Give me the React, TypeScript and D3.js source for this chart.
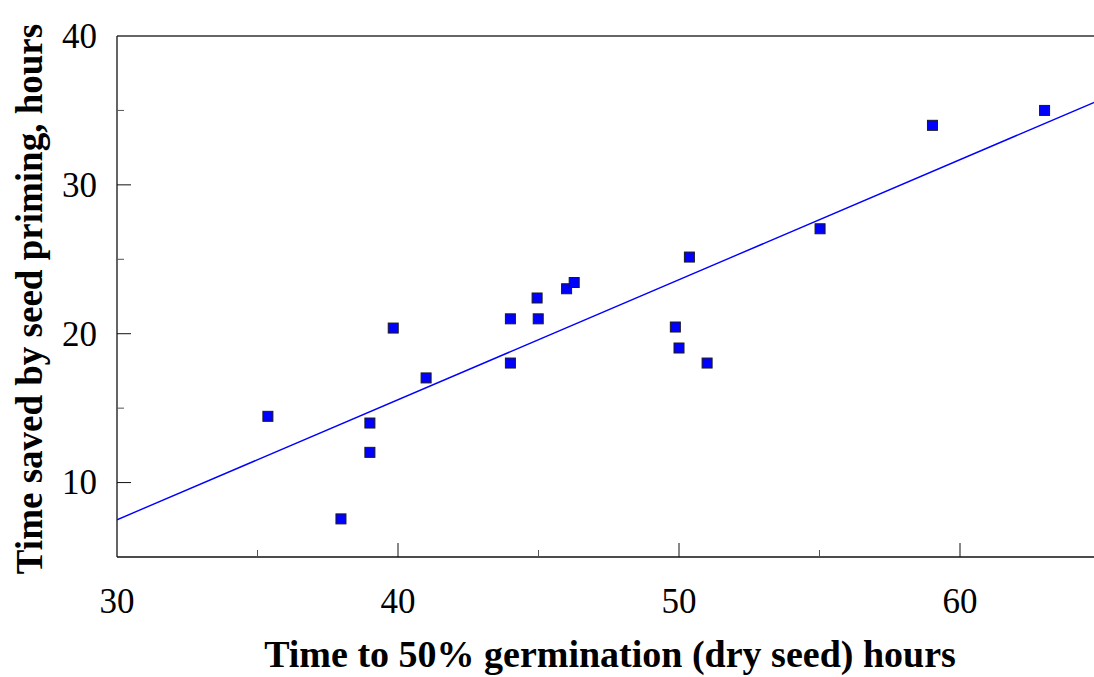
import React from "react";
import * as d3 from "d3";

const xValues = [35.37, 37.97, 39.0, 39.0, 39.83, 41.0, 44.0, 44.0, 44.95, 44.99, 46.0, 46.27, 50.37, 49.87, 50.0, 51.0, 55.02, 59.02, 63.01];
const yValues = [14.45, 7.56, 14.0, 12.03, 20.38, 17.03, 21.0, 18.03, 22.4, 21.0, 23.02, 23.44, 25.15, 20.45, 19.04, 18.03, 27.05, 34.0, 35.0];
const xMajorTicks = [30, 40, 50, 60];
const xMinorTicks = [35, 45, 55];
const yMajorTicks = [10, 20, 30, 40];
const yMinorTicks = [15, 25, 35];
const xTitle = "Time to 50% germination (dry seed) hours";
const yTitle = "Time saved by seed priming, hours";

const W = 1094;
const H = 677;
const left = 117;
const top = 36;
const bottom = 557;

export default function App() {
  const x = d3.scaleLinear().domain([30, 65]).range([left, left + 35 * 28.1]);
  const y = d3.scaleLinear().domain([5, 40]).range([bottom, top]);

  const n = xValues.length;
  const mx = d3.mean(xValues)!;
  const my = d3.mean(yValues)!;
  let sxy = 0, sxx = 0;
  for (let i = 0; i < n; i++) {
    sxy += (xValues[i] - mx) * (yValues[i] - my);
    sxx += (xValues[i] - mx) ** 2;
  }
  const slope = sxy / sxx;
  const intercept = my - slope * mx;
  const fit = (v: number) => intercept + slope * v;
  const line = d3.line<number>().x((d) => x(d)).y((d) => y(fit(d)));
  const right = x(65);

  const font = "'Liberation Serif', 'Times New Roman', serif";

  return (
    <svg width={W} height={H} style={{ position: "absolute", left: 0, top: 0 }} fontFamily={font}>
      <rect width={W} height={H} fill="white" />
      <defs>
        <clipPath id="plot">
          <rect x={left} y={top} width={right - left} height={bottom - top} />
        </clipPath>
      </defs>
      {/* frame */}
      <line x1={left} x2={right} y1={top} y2={top} stroke="#333" strokeWidth={1.4} />
      <line x1={left} x2={right} y1={bottom} y2={bottom} stroke="#111" strokeWidth={1.3} />
      <line x1={left} x2={left} y1={top} y2={bottom} stroke="#111" strokeWidth={1.3} />
      {/* x ticks */}
      {xMajorTicks.map((t) => (
        <g key={"xm" + t}>
          {t > 30 && <line x1={x(t)} x2={x(t)} y1={bottom} y2={bottom - 14} stroke="#111" strokeWidth={1} />}
          <text x={x(t)} y={612.5} textAnchor="middle" fontSize={35}>{t}</text>
        </g>
      ))}
      {xMinorTicks.map((t) => (
        <line key={"xn" + t} x1={x(t)} x2={x(t)} y1={bottom} y2={bottom - 7} stroke="#555" strokeWidth={1} />
      ))}
      {/* y ticks */}
      {yMajorTicks.map((t) => (
        <g key={"ym" + t}>
          {t < 40 && <line x1={left} x2={left + 14} y1={y(t)} y2={y(t)} stroke="#111" strokeWidth={1} />}
          <text x={97} y={y(t)} dy="0.34em" textAnchor="end" fontSize={35}>{t}</text>
        </g>
      ))}
      {yMinorTicks.map((t) => (
        <line key={"yn" + t} x1={left} x2={left + 7} y1={y(t)} y2={y(t)} stroke="#555" strokeWidth={1} />
      ))}
      {/* regression line */}
      <g clipPath="url(#plot)">
        <path d={line([30, 65])!} fill="none" stroke="#0000ff" strokeWidth={1.4} />
      </g>
      {/* points */}
      {xValues.map((v, i) => (
        <rect key={i} x={x(v) - 5} y={y(yValues[i]) - 5} width={10} height={10} fill="#0000ff" stroke="#1a1a1a" strokeWidth={1} />
      ))}
      {/* titles */}
      <text x={610} y={666.5} textAnchor="middle" fontSize={38} fontWeight="bold">{xTitle}</text>
      <text transform={`translate(41.5, 299) rotate(-90)`} textAnchor="middle" fontSize={37} fontWeight="bold">{yTitle}</text>
    </svg>
  );
}
